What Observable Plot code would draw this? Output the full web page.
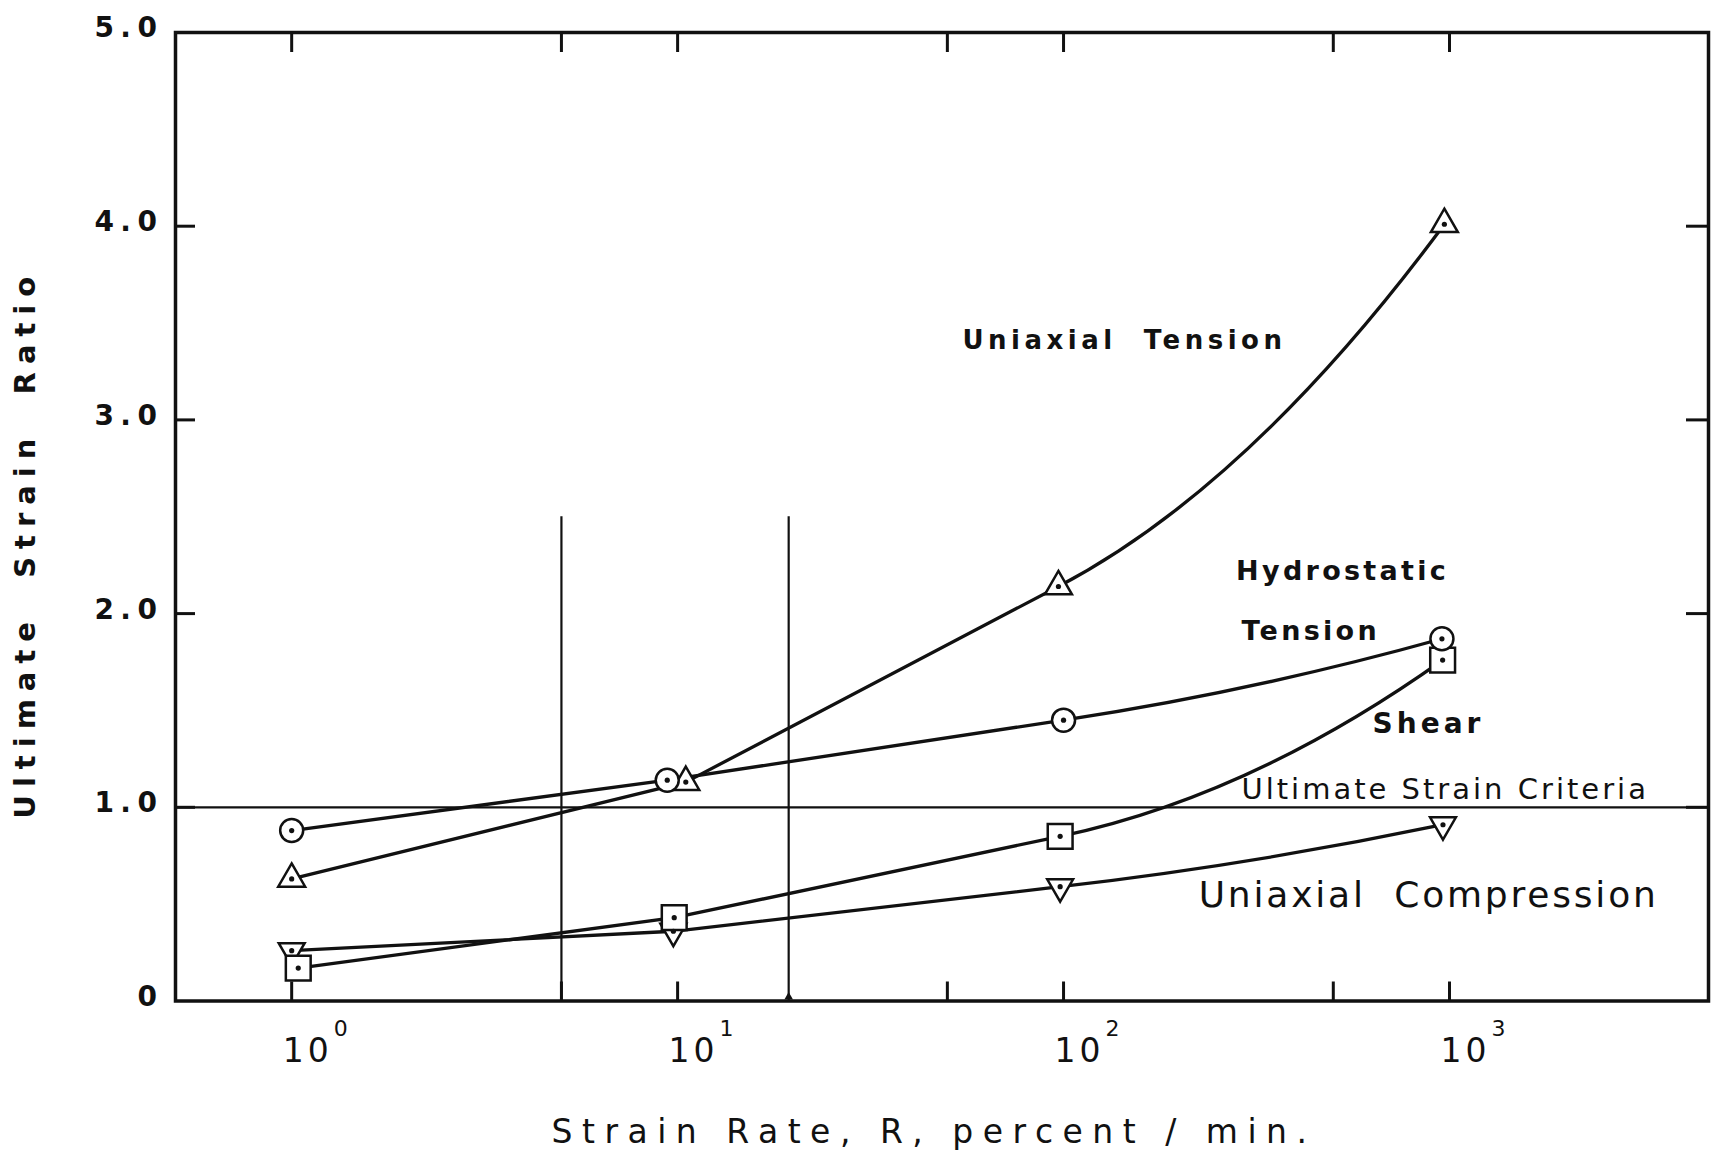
<!DOCTYPE html>
<html>
<head>
<meta charset="utf-8">
<script src="https://cdn.jsdelivr.net/npm/d3@7"></script>
<script src="https://cdn.jsdelivr.net/npm/@observablehq/plot@0.6"></script>
<style>
  html, body { margin: 0; padding: 0; background: #fff; overflow: hidden; }
  #chart svg { display: block; }
  [aria-description="y-title"] text { letter-spacing: 8px; }
  [aria-description="x-title"] text { letter-spacing: 9.5px; }
  [aria-description="y-tick-label"] text { letter-spacing: 6.5px; }
  [aria-description="x-tick-base"] text { letter-spacing: 4px; }
  [aria-description="note-tension"] text { letter-spacing: 4.5px; }
  [aria-description="note-hydro"] text { letter-spacing: 3.3px; }
  [aria-description="note-shear"] text { letter-spacing: 4px; }
  [aria-description="note-criteria"] text { letter-spacing: 3px; }
  [aria-description="note-compression"] text { letter-spacing: 2.8px; }
</style>
</head>
<body>
<div id="chart"></div>
<script>
// Strain rate R (percent / min) and ultimate strain ratio for each loading mode
const tensionRate = [1, 10.5, 97, 970];
const tensionRatio = [0.63, 1.13, 2.14, 4.01];

const hydroRate = [1, 9.4, 100, 956];
const hydroRatio = [0.88, 1.14, 1.45, 1.87];

const shearRate = [1.04, 9.8, 98, 960];
const shearRatio = [0.17, 0.43, 0.85, 1.76];

const compressionRate = [1, 9.75, 98, 962];
const compressionRatio = [0.26, 0.36, 0.59, 0.91];

// Ultimate strain criterion and the bracketed strain-rate range
const criterionRatio = 1.0;
const rangeRates = [5, 19.4];
const rangeTop = 2.5;

// Axis ticks
const xTickRates = [1, 5, 10, 50, 100, 500, 1000];
const decadeExponents = [0, 1, 2, 3];
const yTickValues = [0, 1, 2, 3, 4, 5];
const yTickLabels = ["0", "1.0", "2.0", "3.0", "4.0", "5.0"];

// Curve annotations (anchored at their left edge)
const notes = [
  {key: "tension", text: "Uniaxial\u00a0\u00a0Tension", rate: 54.7, ratio: 3.41},
  {key: "hydro", text: "Hydrostatic", rate: 280, ratio: 2.22},
  {key: "hydro", text: "Tension", rate: 289, ratio: 1.91},
  {key: "shear", text: "Shear", rate: 632, ratio: 1.43},
  {key: "criteria", text: "Ultimate Strain Criteria", rate: 289, ratio: 1.09},
  {key: "compression", text: "Uniaxial\u00a0\u00a0Compression", rate: 224, ratio: 0.545}
];

const table = (rates, ratios) => rates.map((r, i) => ({rate: r, ratio: ratios[i]}));
const tension = table(tensionRate, tensionRatio);
const hydro = table(hydroRate, hydroRatio);
const shear = table(shearRate, shearRatio);
const compression = table(compressionRate, compressionRatio);

// Straight segments between the points, then a parabolic run into the last
// point that leaves the previous point in the direction of the incoming segment.
function curveTail(context) {
  let pts;
  return {
    areaStart() {},
    areaEnd() {},
    lineStart() { pts = []; },
    point(x, y) { pts.push([+x, +y]); },
    lineEnd() {
      const n = pts.length;
      if (!n) return;
      context.moveTo(pts[0][0], pts[0][1]);
      if (n < 3) {
        for (let i = 1; i < n; ++i) context.lineTo(pts[i][0], pts[i][1]);
        return;
      }
      for (let i = 1; i < n - 1; ++i) context.lineTo(pts[i][0], pts[i][1]);
      const [x0, y0] = pts[n - 3], [x1, y1] = pts[n - 2], [x2, y2] = pts[n - 1];
      const slope = (y1 - y0) / (x1 - x0);
      const cx = (x1 + x2) / 2;
      context.quadraticCurveTo(cx, y1 + slope * (cx - x1), x2, y2);
    }
  };
}

// Equilateral triangles with the same area as Plot's symbol size
function triangle(dir) {
  return {
    draw(ctx, size) {
      const s = Math.sqrt(size * 4 / Math.sqrt(3));
      const h = s * Math.sqrt(3) / 2;
      ctx.moveTo(0, -dir * 2 * h / 3);
      ctx.lineTo(s / 2, dir * h / 3);
      ctx.lineTo(-s / 2, dir * h / 3);
      ctx.closePath();
    }
  };
}
const triUp = triangle(1);
const triDown = triangle(-1);

const W = 1711, H = 1168;
const mTop = 32, mBottom = 167.5, mLeft = 175, mRight = 3;
const plotW = W - mLeft - mRight;
const plotH = H - mTop - mBottom;
const ink = "#111";

const lineOpts = {x: "rate", y: "ratio", curve: curveTail, stroke: ink, strokeWidth: 3.3};
const markerOpts = {x: "rate", y: "ratio", fill: "white", stroke: ink, strokeWidth: 2.5};
const centerOpts = {x: "rate", y: "ratio", r: 2.6, fill: ink};

const noteStyle = {
  tension: {fontSize: 26, fontWeight: "bold"},
  hydro: {fontSize: 27, fontWeight: "bold"},
  shear: {fontSize: 28, fontWeight: "bold"},
  criteria: {fontSize: 29, fontWeight: "normal"},
  compression: {fontSize: 36, fontWeight: "normal"}
};

const chart = Plot.plot({
  width: W,
  height: H,
  marginTop: mTop,
  marginBottom: mBottom,
  marginLeft: mLeft,
  marginRight: mRight,
  style: {fontFamily: "DejaVu Sans", color: ink, background: "white"},
  x: {type: "log", domain: [0.5, 4690], axis: null},
  y: {domain: [0, 5], axis: null},
  marks: [
    // criterion line and strain-rate range
    Plot.ruleY([criterionRatio], {stroke: ink, strokeWidth: 2.2}),
    Plot.ruleX(rangeRates, {x: d => d, y1: 0, y2: rangeTop, stroke: ink, strokeWidth: 2.2}),
    Plot.dot([rangeRates[1]], {x: d => d, y: 0, symbol: triUp, r: 3.2, fill: ink, dy: -4}),

    // inward ticks on all four sides
    Plot.tickX(xTickRates, {x: d => d, insetTop: plotH - 19, stroke: ink, strokeWidth: 3}),
    Plot.tickX(xTickRates, {x: d => d, insetBottom: plotH - 20, stroke: ink, strokeWidth: 3}),
    Plot.tickY(yTickValues.slice(1, 5), {y: d => d, insetRight: plotW - 20, stroke: ink, strokeWidth: 3}),
    Plot.tickY(yTickValues.slice(1, 5), {y: d => d, insetLeft: plotW - 22, stroke: ink, strokeWidth: 3}),
    Plot.frame({stroke: ink, strokeWidth: 3.5}),

    // curves
    Plot.line(compression, lineOpts),
    Plot.line(shear, lineOpts),
    Plot.line(tension, lineOpts),
    Plot.line(hydro, lineOpts),

    // open markers with centre dots
    Plot.dot(compression, {...markerOpts, symbol: triDown, r: 9.6}),
    Plot.dot(shear, {...markerOpts, symbol: "square", r: 14}),
    Plot.dot(tension, {...markerOpts, symbol: triUp, r: 10}),
    Plot.dot(hydro, {...markerOpts, symbol: "circle", r: 11.5}),
    Plot.dot(compression, centerOpts),
    Plot.dot(shear, centerOpts),
    Plot.dot(tension, centerOpts),
    Plot.dot(hydro, centerOpts),

    // annotations
    ...notes.map(n => Plot.text([n], {
      x: "rate", y: "ratio", text: "text", textAnchor: "start", lineAnchor: "middle",
      fill: ink, ariaDescription: "note-" + n.key, ...noteStyle[n.key]
    })),

    // y tick labels
    Plot.text(yTickValues, {
      y: d => d, text: (d, i) => yTickLabels[i], frameAnchor: "left",
      textAnchor: "end", lineAnchor: "middle", dx: -12, dy: -4, fontSize: 28, fontWeight: "bold",
      fill: ink, ariaDescription: "y-tick-label"
    }),

    // x tick labels: 10 with a raised exponent
    Plot.text(decadeExponents, {
      x: e => 10 ** e, text: () => "10", frameAnchor: "bottom",
      textAnchor: "middle", lineAnchor: "middle",
      dx: 16, dy: 50, fontSize: 33, fill: ink, ariaDescription: "x-tick-base"
    }),
    Plot.text(decadeExponents, {
      x: e => 10 ** e, text: e => String(e), frameAnchor: "bottom",
      textAnchor: "middle", lineAnchor: "middle",
      dx: 49, dy: 28, fontSize: 22, fill: ink, ariaDescription: "x-tick-exp"
    }),

    // axis titles
    Plot.text(["Ultimate\u00a0\u00a0Strain\u00a0\u00a0Ratio"], {
      text: d => d, frameAnchor: "left", textAnchor: "middle", lineAnchor: "middle",
      rotate: -90, dx: -150, dy: 27,
      fontSize: 29, fontWeight: "bold", fill: ink, ariaDescription: "y-title"
    }),
    Plot.text(["Strain Rate, R, percent / min."], {
      text: d => d, frameAnchor: "bottom", textAnchor: "middle", lineAnchor: "middle",
      dx: -8, dy: 131, fontSize: 33, fill: ink, ariaDescription: "x-title"
    })
  ]
});

document.getElementById("chart").appendChild(chart);
</script>
</body>
</html>
